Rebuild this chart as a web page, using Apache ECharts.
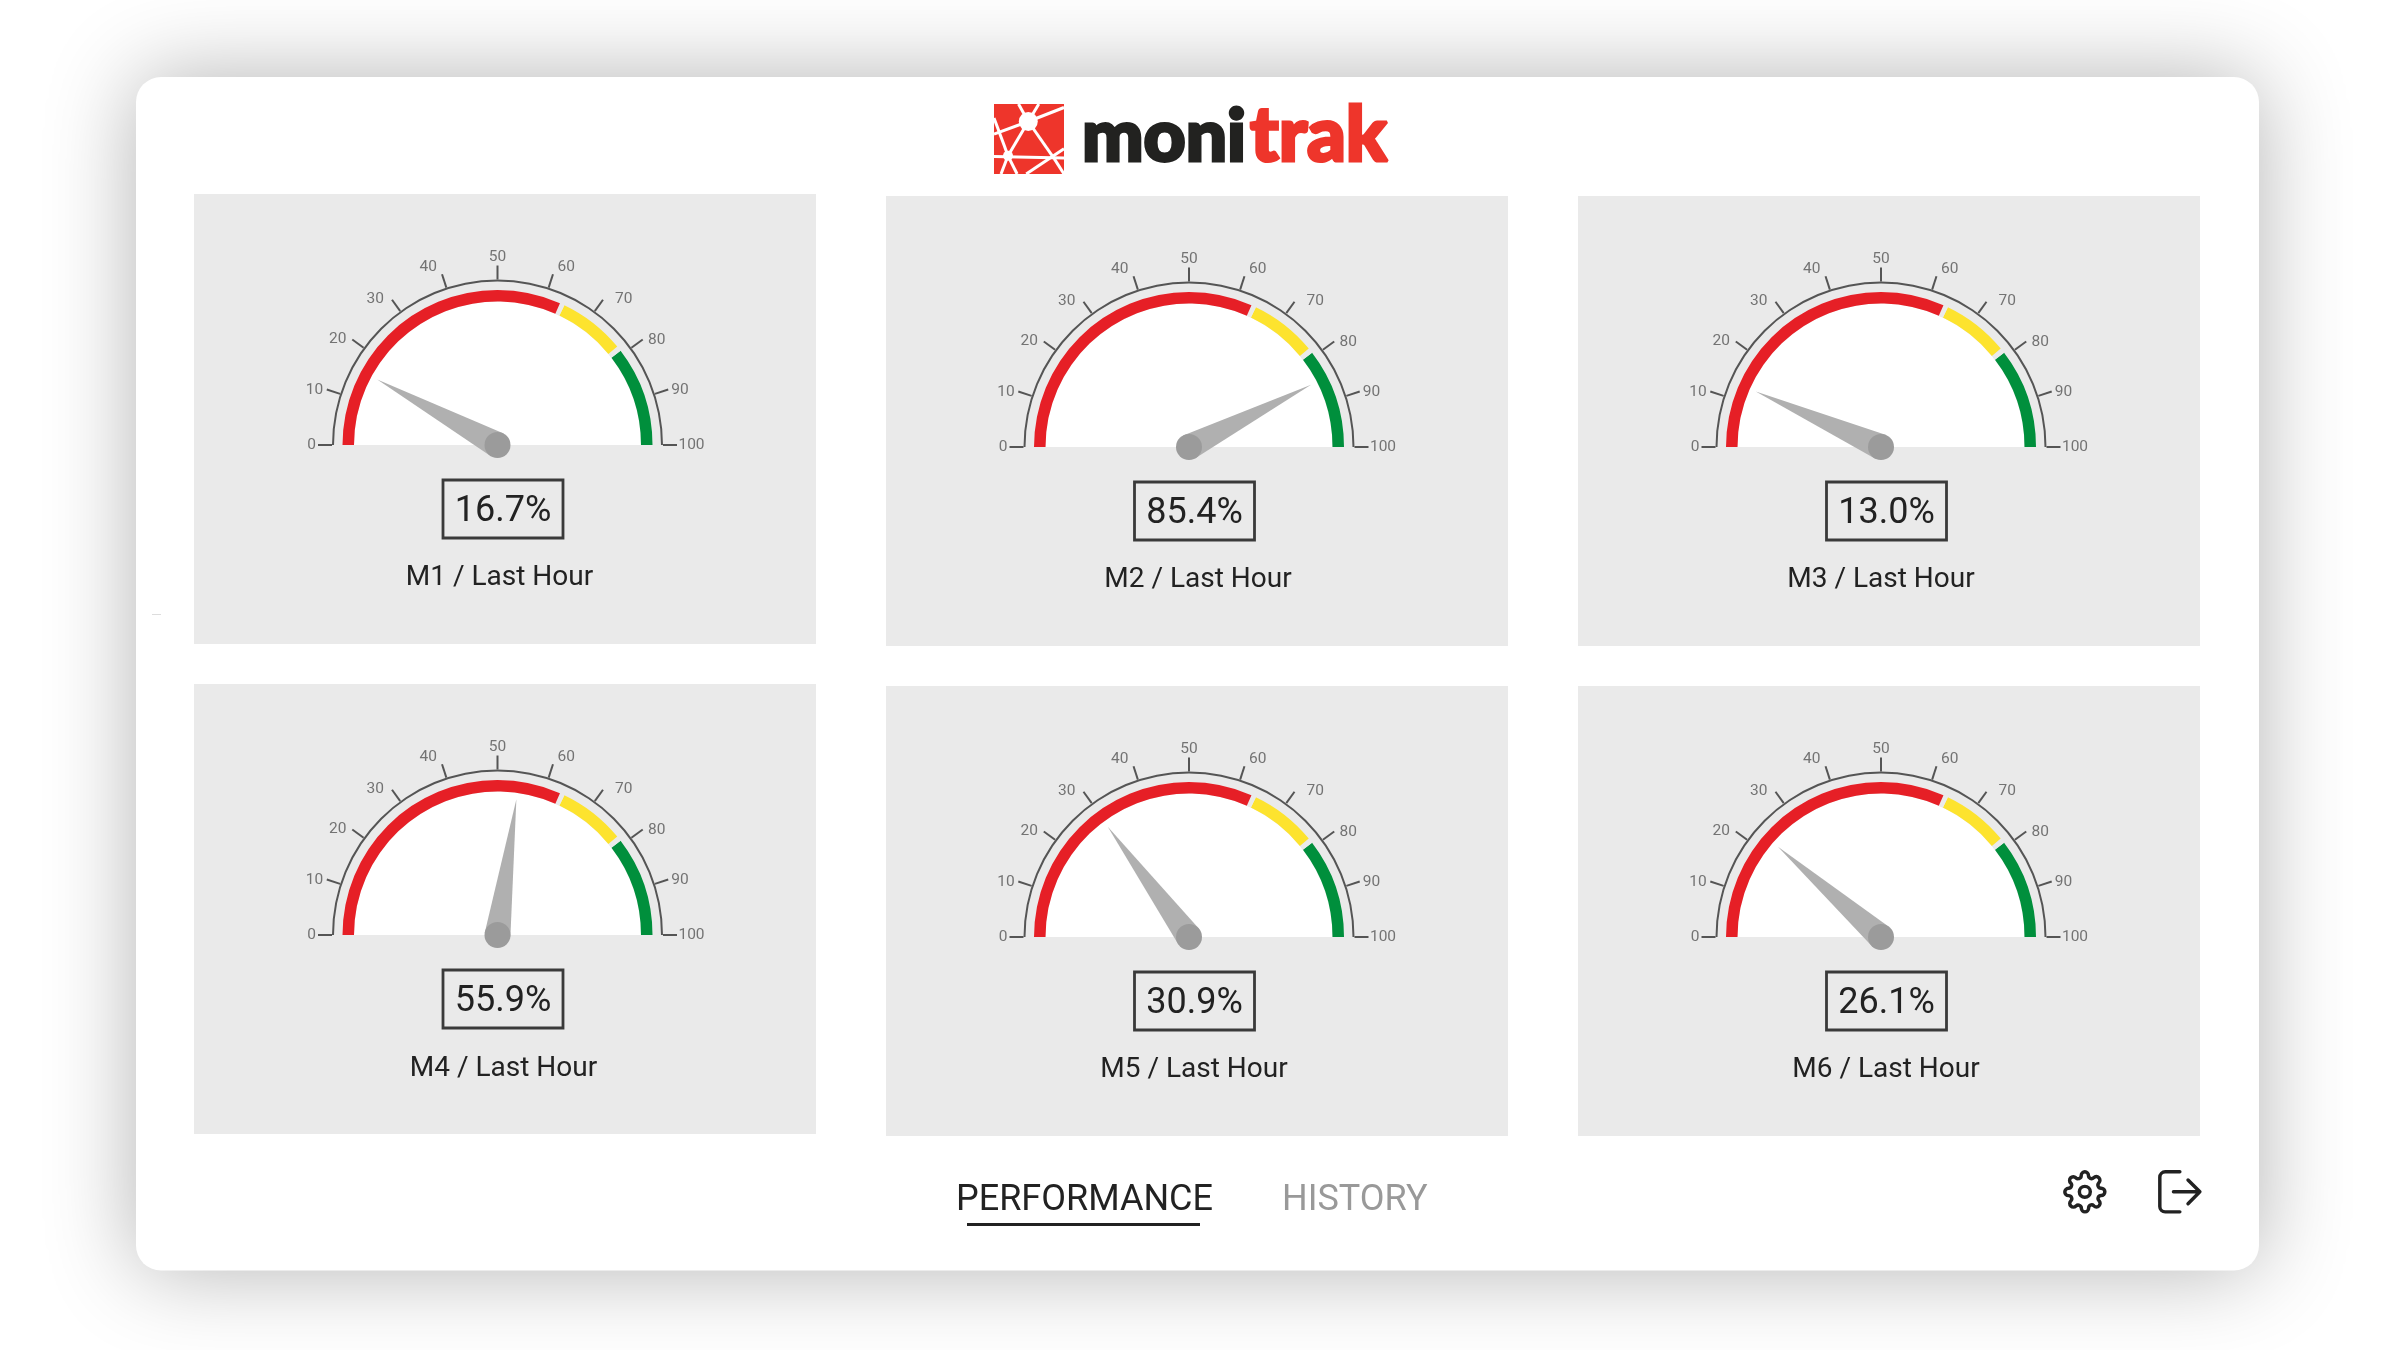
<!DOCTYPE html>
<html>
<head>
<meta charset="utf-8">
<style>html,body{margin:0;padding:0;background:#fff}#c{width:2400px;height:1350px}</style>
<script src="https://cdn.jsdelivr.net/npm/echarts@6/dist/echarts.min.js"></script>
</head>
<body>
<div id="c"></div>
<script>
// ---- data ----
const machines = ['M1 / Last Hour','M2 / Last Hour','M3 / Last Hour','M4 / Last Hour','M5 / Last Hour','M6 / Last Hour'];
const displayed = [16.7, 85.4, 13.0, 55.9, 30.9, 26.1];     // figure in the value box
const needleAt = [15.9, 85.0, 13.3, 54.4, 29.8, 22.9];      // where the needle actually points
const zoneEnds = [63.2, 64.2, 78.1, 79.2, 100];
const tickLabels = [0,10,20,30,40,50,60,70,80,90,100];
const tickLabelAt = [0, 9.2, 18.6, 27.8, 38.2, 50, 61.7, 72.7, 81.4, 90.7, 100]; // label centres on the 0-100 angle scale
const tickLabelRadius = [186, 191, 191.5, 190.5, 191, 188, 191, 193, 191, 190.5, 194];
const tabs = ['PERFORMANCE','HISTORY'];
const logoWords = ['moni','trak'];

// ---- layout ----
const panelX = [194, 886, 1578];
const panelY = [[194, 684],[196, 686],[196, 686]];
const panelW = 622, panelH = 450;
const gaugeX = [497.5, 1189, 1881, 497.5, 1189, 1881];
const gaugeY = [445, 447, 447, 935, 937, 937];
const titleDX = [2, 9, 0, 6, 5, 5];
const titleDY = [132.5, 132.5, 132.5, 134, 132.5, 132.5];
const R = {scale:165.5, band:155, disc:143.5, needle:137, polar:220};
const C = {panel:'#eaeaea', red:'#e61f26', yellow:'#fde32e', green:'#008f3c', ink:'#222222', scale:'#555555', needle:'#b0b0b0', hub:'#9b9b9b', logoRed:'#ee352b'};
const zoneColors = [C.red, C.panel, C.yellow, C.panel, C.green];

const series = [], polar = [], angleAxis = [], radiusAxis = [];
machines.forEach((name, i) => {
  const common = {type:'gauge', center:[gaugeX[i], gaugeY[i]], startAngle:180, endAngle:0, min:0, max:100, splitNumber:10,
    axisTick:{show:false}, splitLine:{show:false}, axisLabel:{show:false}, pointer:{show:false}, title:{show:false}, detail:{show:false}, anchor:{show:false}, progress:{show:false}, animation:false, silent:true};
  // white half disc
  series.push({...common, name:'disc'+i, radius:R.disc, data:[], z:2,
    axisLine:{roundCap:false, lineStyle:{width:R.disc, color:[[1,'#ffffff']]}}});
  // coloured zones
  series.push({...common, name:'zones'+i, radius:R.band, data:[], z:3,
    axisLine:{lineStyle:{width:11.5, color:zoneEnds.map((v,k)=>[v/100, zoneColors[k]])}}});
  // scale arc and ticks
  series.push({...common, name:'scale'+i, radius:R.scale, data:[], z:3,
    axisLine:{lineStyle:{width:2, color:[[1,C.scale]]}},
    splitLine:{show:true, distance:-16, length:14, lineStyle:{width:2, color:C.scale}}});
  // needle, hub, value box, title
  series.push({...common, name:name, radius:R.scale, z:5,
    axisLine:{show:false},
    pointer:{show:true, icon:'triangle', length:R.needle, width:26, offsetCenter:[0,0], itemStyle:{color:C.needle}},
    anchor:{show:true, showAbove:true, size:26, itemStyle:{color:C.hub, borderWidth:0}},
    title:{show:true, offsetCenter:[titleDX[i],titleDY[i]], fontFamily:'Roboto', fontWeight:400, fontSize:28, color:C.ink},
    detail:{show:true, offsetCenter:[5.5,64], width:120, height:58, padding:0, borderWidth:1.4, borderColor:'#3a3a3a', fontFamily:'Roboto', fontWeight:400, fontSize:36, color:C.ink,
      formatter:()=>'{v|'+displayed[i].toFixed(1)+'%}',
      rich:{v:{fontFamily:'Roboto', fontSize:36, color:C.ink, lineHeight:62, padding:[2,0,0,0]}}},
    data:[{value:needleAt[i], name:name}]});
  // tick labels placed through a polar coordinate system (hidden axes)
  polar.push({center:[gaugeX[i], gaugeY[i]], radius:R.polar});
  radiusAxis.push({polarIndex:i, show:false, type:'value', min:0, max:R.polar});
  angleAxis.push({polarIndex:i, show:false, type:'value', min:0, max:200, startAngle:180, clockwise:true});
  series.push({type:'scatter', coordinateSystem:'polar', polarIndex:i, name:'axis'+i, silent:true, clip:false, z:4,
    symbolSize:1, itemStyle:{color:'rgba(0,0,0,0)'},
    label:{show:true, position:'inside', fontFamily:'Roboto', fontSize:15.5, color:C.scale, formatter:p=>String(p.value[2])},
    data:tickLabels.map((t,k)=>[tickLabelRadius[k], tickLabelAt[k], t])});
});

// ---- page furniture ----
const g = [];
g.push({type:'rect', z:-5, shape:{x:136,y:77,width:2123,height:1193.5,r:25}, style:{fill:'#fff', shadowBlur:90, shadowColor:'rgba(0,0,0,0.30)'}});
panelX.forEach((x,cx)=>panelY[cx].forEach(y=>g.push({type:'rect', z:-4, shape:{x,y,width:panelW,height:panelH}, style:{fill:C.panel}})));
g.push({type:'rect', z:-4, shape:{x:152,y:614,width:9,height:1}, style:{fill:'#dddddd'}});

// logo mark
const lx=994, ly=104, ls=70;
g.push({type:'rect', z:-3, shape:{x:lx,y:ly,width:ls,height:ls}, style:{fill:C.logoRed}});
const logoLines=[[.35,0,.49,.25],[.64,0,.49,.25],[1,.05,.49,.25],[0,.43,.49,.25],[.49,.25,.2,.74],[.49,.25,.86,.78],[.86,.78,1,1],[0,.2,.2,.74],[.2,.74,.33,1],[0,.75,1,.77],[.1,1,.2,.74],[.46,1,1,.64]];
logoLines.forEach(l=>g.push({type:'line', z:-2, shape:{x1:lx+l[0]*ls,y1:ly+l[1]*ls,x2:lx+l[2]*ls,y2:ly+l[3]*ls}, style:{stroke:'#fff',lineWidth:3}}));
g.push({type:'circle', z:-2, shape:{cx:lx+.49*ls,cy:ly+.25*ls,r:9.5}, style:{fill:'#fff'}});
g.push({type:'circle', z:-2, shape:{cx:lx+.2*ls,cy:ly+.74*ls,r:5}, style:{fill:'#fff'}});
g.push({type:'text', z:-2, x:1082, y:174, style:{text:logoWords[0], fill:'#222220', stroke:'#222220', lineWidth:3, font:'900 73px Lato', verticalAlign:'bottom'}});
g.push({type:'text', z:-2, x:1250, y:174, style:{text:logoWords[1], fill:C.logoRed, stroke:C.logoRed, lineWidth:3, font:'900 76px Lato', verticalAlign:'bottom'}});

// tabs
g.push({type:'text', z:-2, x:956, y:1201, style:{text:tabs[0], fill:C.ink, font:'400 36px Roboto', verticalAlign:'middle'}});
g.push({type:'text', z:-2, x:1282, y:1201, style:{text:tabs[1], fill:'#999999', font:'400 36px Roboto', verticalAlign:'middle'}});
g.push({type:'rect', z:-2, shape:{x:967,y:1223,width:233,height:3}, style:{fill:C.ink}});

// icons
const gear='M12 15a3 3 0 1 0 0-6 3 3 0 0 0 0 6z M19.4 15a1.65 1.65 0 0 0 .33 1.82l.06.06a2 2 0 0 1 0 2.83 2 2 0 0 1-2.83 0l-.06-.06a1.65 1.65 0 0 0-1.82-.33 1.65 1.65 0 0 0-1 1.51V21a2 2 0 0 1-2 2 2 2 0 0 1-2-2v-.09A1.65 1.65 0 0 0 9 19.4a1.65 1.65 0 0 0-1.82.33l-.06.06a2 2 0 0 1-2.83 0 2 2 0 0 1 0-2.83l.06-.06a1.65 1.65 0 0 0 .33-1.82 1.65 1.65 0 0 0-1.51-1H3a2 2 0 0 1-2-2 2 2 0 0 1 2-2h.09A1.65 1.65 0 0 0 4.6 9a1.65 1.65 0 0 0-.33-1.82l-.06-.06a2 2 0 0 1 0-2.83 2 2 0 0 1 2.83 0l.06.06a1.65 1.65 0 0 0 1.82.33H9a1.65 1.65 0 0 0 1-1.51V3a2 2 0 0 1 2-2 2 2 0 0 1 2 2v.09a1.65 1.65 0 0 0 1 1.51 1.65 1.65 0 0 0 1.82-.33l.06-.06a2 2 0 0 1 2.83 0 2 2 0 0 1 0 2.83l-.06.06a1.65 1.65 0 0 0-.33 1.82V9a1.65 1.65 0 0 0 1.51 1H21a2 2 0 0 1 2 2 2 2 0 0 1-2 2h-.09a1.65 1.65 0 0 0-1.51 1z';
const exitIcon='M12 1H4a3 3 0 0 0-3 3v16a3 3 0 0 0 3 3h8 M8.5 12H23 M16.5 5.5l6.5 6.5-6.5 6.5';
echarts.graphic.registerShape('gearIcon', echarts.graphic.extendPath(gear, {}));
echarts.graphic.registerShape('exitIcon', echarts.graphic.extendPath(exitIcon, {}));
g.push({type:'gearIcon', z:-2, x:2063, y:1170, scaleX:1.82, scaleY:1.82, style:{fill:null, stroke:C.ink, lineWidth:1.9}});
g.push({type:'exitIcon', z:-2, x:2158, y:1170, scaleX:1.82, scaleY:1.82, style:{fill:null, stroke:C.ink, lineWidth:1.9, lineCap:'round', lineJoin:'round'}});

const chart = echarts.init(document.getElementById('c'), null, {width:2400, height:1350, devicePixelRatio:1});
chart.setOption({backgroundColor:'#ffffff', animation:false, polar, angleAxis, radiusAxis, series, graphic:{elements:g}});
</script>
</body>
</html>
